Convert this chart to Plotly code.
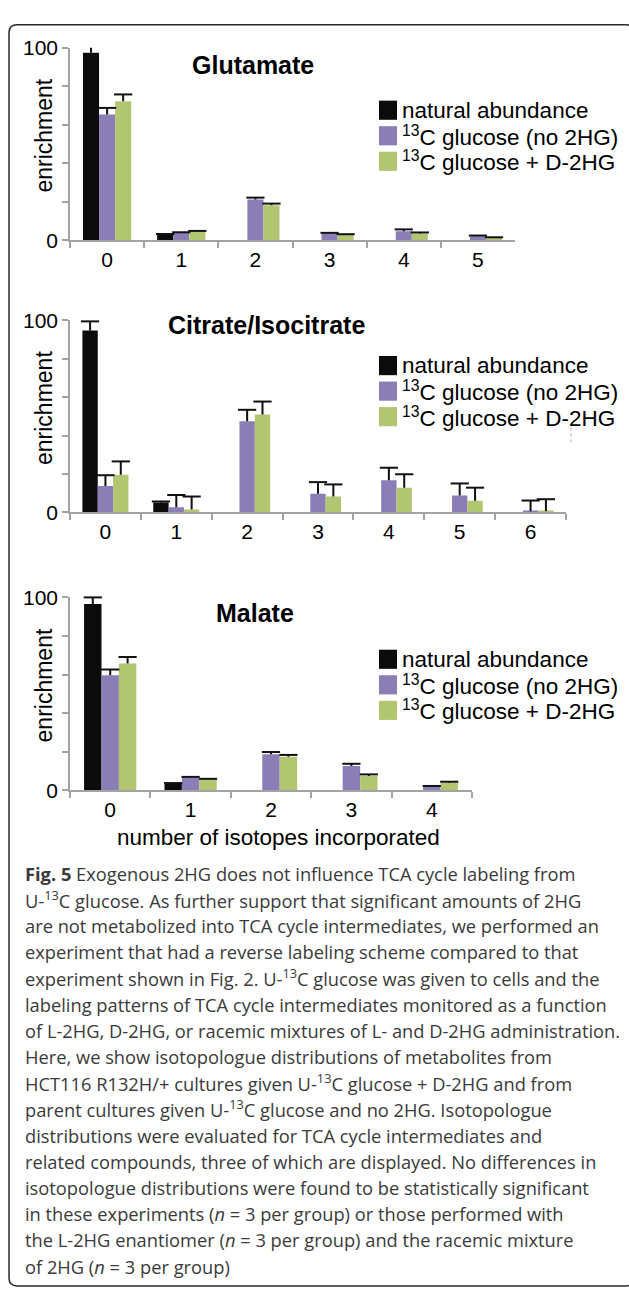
import plotly.graph_objects as go

W, H = 629, 1293

# ---------------- data ----------------
series_names = ["natural abundance",
                "<sup>13</sup>C glucose (no 2HG)",
                "<sup>13</sup>C glucose + D-2HG"]
series_colors = ["#0b0b0b", "#8b7db6", "#b2c672"]

glu_isotopes = ["0", "1", "2", "3", "4", "5"]
glu_natural = [97.3, 2.9, None, None, None, None]
glu_natural_err = [3.4, 0.3, None, None, None, None]
glu_no2hg = [65.3, 3.7, 21.1, 3.4, 4.6, 2.0]
glu_no2hg_err = [3.4, 0.4, 1.0, 0.4, 1.0, 0.4]
glu_d2hg = [72.1, 4.4, 18.2, 2.7, 3.4, 1.2]
glu_d2hg_err = [3.6, 0.4, 0.8, 0.4, 0.6, 0.3]

cit_isotopes = ["0", "1", "2", "3", "4", "5", "6"]
cit_natural = [94.7, 5.1, None, None, None, None, None]
cit_natural_err = [4.8, 0.5, None, None, None, None, None]
cit_no2hg = [13.7, 2.6, 47.4, 9.6, 16.7, 8.7, 0.5]
cit_no2hg_err = [5.6, 6.4, 6.0, 6.1, 6.5, 6.3, 5.6]
cit_d2hg = [19.5, 1.4, 50.9, 8.2, 12.8, 6.0, 0.5]
cit_d2hg_err = [7.0, 6.8, 6.8, 6.3, 7.0, 6.8, 6.3]

mal_isotopes = ["0", "1", "2", "3", "4"]
mal_natural = [96.6, 3.4, None, None, None]
mal_natural_err = [3.4, 0.3, None, None, None]
mal_no2hg = [59.6, 6.5, 18.6, 12.6, 1.9]
mal_no2hg_err = [3.0, 0.4, 1.2, 1.1, 0.3]
mal_d2hg = [65.7, 5.6, 17.3, 7.4, 3.9]
mal_d2hg_err = [3.4, 0.3, 1.0, 0.8, 0.5]

panel_titles = ["Glutamate", "Citrate/Isocitrate", "Malate"]
y_labeled_ticks = [0, 100]
y_minor_ticks = [20, 40, 60, 80]
y_title = "enrichment"
x_title = "number of isotopes incorporated"

caption_lines = [
    "<b>Fig. 5</b> Exogenous 2HG does not influence TCA cycle labeling from",
    "U-<sup>13</sup>C glucose. As further support that significant amounts of 2HG",
    "are not metabolized into TCA cycle intermediates, we performed an",
    "experiment that had a reverse labeling scheme compared to that",
    "experiment shown in Fig. 2. U-<sup>13</sup>C glucose was given to cells and the",
    "labeling patterns of TCA cycle intermediates monitored as a function",
    "of L-2HG, D-2HG, or racemic mixtures of L- and D-2HG administration.",
    "Here, we show isotopologue distributions of metabolites from",
    "HCT116 R132H/+ cultures given U-<sup>13</sup>C glucose + D-2HG and from",
    "parent cultures given U-<sup>13</sup>C glucose and no 2HG. Isotopologue",
    "distributions were evaluated for TCA cycle intermediates and",
    "related compounds, three of which are displayed. No differences in",
    "isotopologue distributions were found to be statistically significant",
    "in these experiments (<i>n</i> = 3 per group) or those performed with",
    "the L-2HG enantiomer (<i>n</i> = 3 per group) and the racemic mixture",
    "of 2HG (<i>n</i> = 3 per group)",
]

panels = [
    dict(cats=glu_isotopes, vals=[glu_natural, glu_no2hg, glu_d2hg],
         errs=[glu_natural_err, glu_no2hg_err, glu_d2hg_err]),
    dict(cats=cit_isotopes, vals=[cit_natural, cit_no2hg, cit_d2hg],
         errs=[cit_natural_err, cit_no2hg_err, cit_d2hg_err]),
    dict(cats=mal_isotopes, vals=[mal_natural, mal_no2hg, mal_d2hg],
         errs=[mal_natural_err, mal_no2hg_err, mal_d2hg_err]),
]

# ---------------- layout geometry (pixels) ----------------
def px(x):
    return x / W


def py(y):
    return 1 - y / H


FONT = "Liberation Sans, Arial, Helvetica, sans-serif"
AXC = "#a3a3a3"
GAP = 0.35
plot_left = 70
plot_right = [515, 566, 472]
y_zero = [232.3, 509.3, 792.3]
y_top = [36.3, 314.0, 596.0]
title_pos = [(253, 54), (266, 319), (255, 612)]
legend_first_row = [100, 360, 659]
legend_step = 26
sw_x0, sw_w, sw_h, leg_text_x = 379, 18, 19.5, 400

fig = go.Figure()

for p, panel in enumerate(panels):
    sfx = "" if p == 0 else str(p + 1)
    for s in range(3):
        fig.add_trace(go.Bar(
            x=panel["cats"], y=panel["vals"][s], name=series_names[s],
            marker=dict(color=series_colors[s], line=dict(width=0)),
            xaxis="x" + sfx, yaxis="y" + sfx,
            offsetgroup=str(s), alignmentgroup="a" + sfx,
            showlegend=False,
        ))
    # one-sided error bars ("T" shape): cap marker at mean+err, stem down to bar top
    for s in range(3):
        vals = panel["vals"][s]
        err = panel["errs"][s]
        tops = [None if (v is None or e is None) else v + e for v, e in zip(vals, err)]
        fig.add_trace(go.Scatter(
            x=panel["cats"], y=tops, mode="markers",
            marker=dict(symbol="line-ew", size=13, color="#111111",
                        line=dict(width=2, color="#111111")),
            error_y=dict(type="data", symmetric=False,
                         array=[0 if e is not None else None for e in err],
                         arrayminus=err, color="#111111", thickness=2, width=0),
            xaxis="x" + sfx, yaxis="y" + sfx,
            offsetgroup=str(s), alignmentgroup="a" + sfx,
            showlegend=False, hoverinfo="skip", cliponaxis=False,
        ))

layout = dict(
    width=W, height=H, margin=dict(l=0, r=0, t=0, b=0),
    paper_bgcolor="white", plot_bgcolor="white",
    barmode="group", bargap=GAP, bargroupgap=0,
    scattermode="group", scattergap=GAP,
    font=dict(family=FONT, color="black"),
    showlegend=False,
)

annotations = []
shapes = []
for p, panel in enumerate(panels):
    sfx = "" if p == 0 else str(p + 1)
    layout["xaxis" + sfx] = dict(
        domain=[px(plot_left), px(plot_right[p])], anchor="y" + sfx,
        type="category", showline=True, linecolor=AXC, linewidth=1.5,
        ticks="outside", ticklen=6, tickwidth=1.5, tickcolor=AXC,
        tickson="boundaries", showgrid=False, zeroline=False,
        tickfont=dict(size=21, family=FONT, color="black"), fixedrange=True,
    )
    layout["yaxis" + sfx] = dict(
        domain=[py(y_zero[p]), py(y_top[p])], anchor="x" + sfx,
        range=[0, 100], tickmode="array", tickvals=y_labeled_ticks,
        showline=True, linecolor=AXC, linewidth=1.5,
        ticks="outside", ticklen=6, tickwidth=1.5, tickcolor=AXC,
        minor=dict(tickmode="array", tickvals=y_minor_ticks, ticks="outside",
                   ticklen=6, tickwidth=1.5, tickcolor=AXC, showgrid=False),
        showgrid=False, zeroline=False,
        tickfont=dict(size=21, family=FONT, color="black"), fixedrange=True,
    )
    annotations.append(dict(
        text="<b>" + panel_titles[p] + "</b>", x=px(title_pos[p][0]), y=py(title_pos[p][1]),
        xref="paper", yref="paper", xanchor="center", yanchor="middle",
        showarrow=False, font=dict(size=25, family=FONT, color="black")))
    annotations.append(dict(
        text=y_title, x=px(44), y=py((y_zero[p] + y_top[p]) / 2 - 8.5),
        xref="paper", yref="paper", xanchor="center", yanchor="middle",
        textangle=-90, showarrow=False,
        font=dict(size=23, family=FONT, color="black")))
    for s in range(3):
        cy = legend_first_row[p] + s * legend_step
        shapes.append(dict(
            type="rect", xref="paper", yref="paper",
            x0=px(sw_x0), x1=px(sw_x0 + sw_w),
            y0=py(cy + sw_h / 2), y1=py(cy - sw_h / 2),
            fillcolor=series_colors[s], line=dict(width=0)))
        annotations.append(dict(
            text=series_names[s], x=px(leg_text_x), y=py(cy),
            xref="paper", yref="paper", xanchor="left", yanchor="middle",
            showarrow=False, font=dict(size=22.5, family=FONT, color="black")))

annotations.append(dict(
    text=x_title, x=px(278), y=py(840), xref="paper", yref="paper",
    xanchor="center", yanchor="middle", showarrow=False,
    font=dict(size=22.5, family=FONT, color="black")))

cap_font = "Open Sans, Noto Sans, sans-serif"
for i, line in enumerate(caption_lines):
    annotations.append(dict(
        text=line, x=px(23), y=py(876.7 + i * 26.67), xref="paper", yref="paper",
        xanchor="left", yanchor="middle", showarrow=False,
        font=dict(size=18.3, family=cap_font, color="#3a3a3a")))

bx0, by0, bx1, by1, r = 9, 13, 634, 1297, 8
rx, ry = r / W, r / H
path = (f"M {px(bx0)},{py(by0) - ry} "
        f"Q {px(bx0)},{py(by0)} {px(bx0) + rx},{py(by0)} "
        f"L {px(bx1) - rx},{py(by0)} "
        f"Q {px(bx1)},{py(by0)} {px(bx1)},{py(by0) - ry} "
        f"L {px(bx1)},{py(by1) + ry} "
        f"Q {px(bx1)},{py(by1)} {px(bx1) - rx},{py(by1)} "
        f"L {px(bx0) + rx},{py(by1)} "
        f"Q {px(bx0)},{py(by1)} {px(bx0)},{py(by1) + ry} Z")
shapes.append(dict(type="path", path=path, xref="paper", yref="paper",
                   line=dict(color="#2a2a2a", width=1.5)))

shapes.append(dict(type="line", xref="paper", yref="paper",
                   x0=px(571), x1=px(571), y0=py(423), y1=py(438),
                   line=dict(color="#b0b0b0", width=1, dash="dot")))

layout["annotations"] = annotations
layout["shapes"] = shapes
fig.update_layout(**layout)

fig.write_html("out.html", config={"displayModeBar": False},
               post_script="document.body.style.margin='0';document.body.style.overflow='hidden';")
